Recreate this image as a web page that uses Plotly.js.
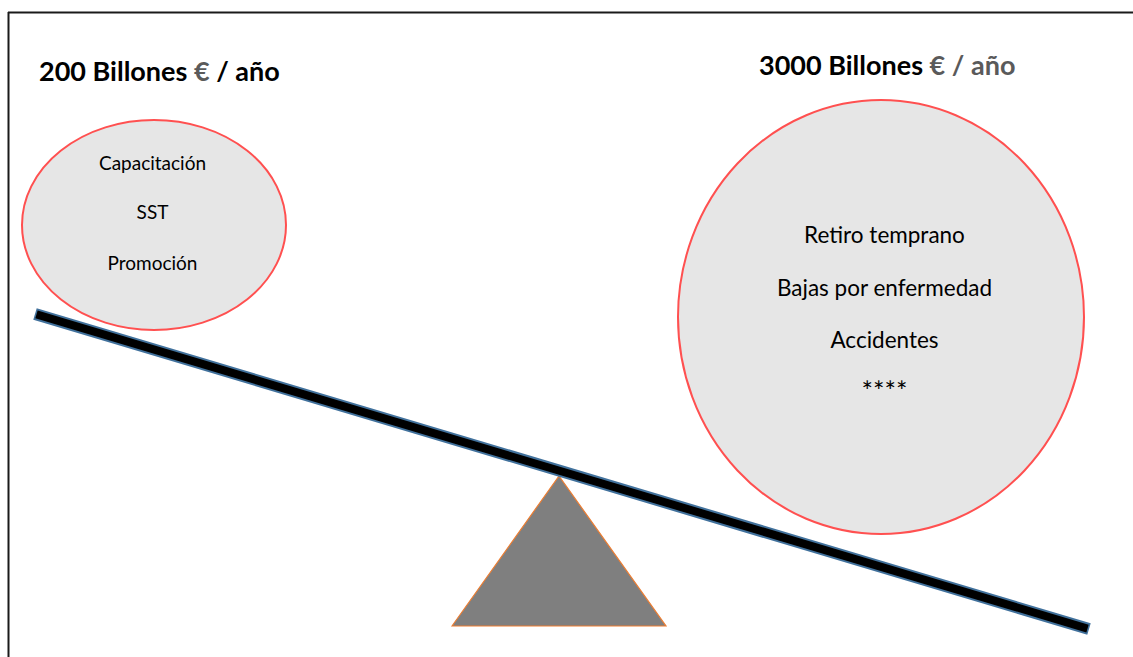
<!DOCTYPE html>
<html>
<head>
<meta charset="utf-8">
<script src="https://cdn.plot.ly/plotly-3.0.1.min.js"></script>
<style>
html,body{margin:0;padding:0;background:#fff;overflow:hidden;}
::-webkit-scrollbar{display:none;width:0;height:0;}
#chart{width:1133px;height:657px;}
</style>
</head>
<body>
<div id="chart"></div>
<script>
// ---- data ----
const amounts = ['200', '3000'];
const amountWord = 'Billones';
const unitEuro = '€';
const unitYear = 'año';
const investItems = ['Capacitación', 'SST', 'Promoción'];
const costItems = ['Retiro temprano', 'Bajas por enfermedad', 'Accidentes', '****'];

// ---- layout geometry (pixel coordinates in a 1133x657 frame) ----
const W = 1133, H = 657;
const leftCircle = {cx: 154, cy: 225, rx: 132, ry: 105};
const rightCircle = {cx: 881, cy: 317, rx: 203, ry: 217};
const beam = {x0: 35, y0: 314, x1: 1089, y1: 629};
const fulcrum = {ax: 559, ay: 476, bl: 452, br: 666, by: 626};

const shapes = [];
// frame border (top and left edges visible)
shapes.push({type: 'line', xref: 'x', yref: 'y', x0: 8, y0: 12.5, x1: W + 5, y1: 12.5,
  line: {color: '#1a1a1a', width: 2}, layer: 'below'});
shapes.push({type: 'line', xref: 'x', yref: 'y', x0: 8.5, y0: 12, x1: 8.5, y1: H + 5,
  line: {color: '#1a1a1a', width: 2}, layer: 'below'});
// circles
[leftCircle, rightCircle].forEach(c => shapes.push({type: 'circle', xref: 'x', yref: 'y',
  x0: c.cx - c.rx, x1: c.cx + c.rx, y0: c.cy - c.ry, y1: c.cy + c.ry,
  fillcolor: '#e6e6e6', line: {color: '#ff5050', width: 2}, layer: 'below'}));
// fulcrum triangle
shapes.push({type: 'path', xref: 'x', yref: 'y',
  path: `M ${fulcrum.bl} ${fulcrum.by} L ${fulcrum.ax} ${fulcrum.ay} L ${fulcrum.br} ${fulcrum.by} Z`,
  fillcolor: '#7f7f7f', line: {color: '#ed7d31', width: 1.2}});
// beam: blue outline then black core
shapes.push({type: 'line', xref: 'x', yref: 'y', x0: beam.x0, y0: beam.y0, x1: beam.x1, y1: beam.y1,
  line: {color: '#41719c', width: 12}});
shapes.push({type: 'line', xref: 'x', yref: 'y', x0: beam.x0 + 1.5, y0: beam.y0 + 0.45, x1: beam.x1 - 1.5, y1: beam.y1 - 0.45,
  line: {color: '#000000', width: 8}});

const grey = '#5a5a5a';
const headFont = {family: 'Lato, "Open Sans", sans-serif', size: 27, color: '#000'};
const annotations = [
  {x: 37, y: 70, xanchor: 'left', yanchor: 'middle', showarrow: false, font: headFont,
   text: `<b>${amounts[0]} ${amountWord} <span style="color:${grey}">${unitEuro}</span> / ${unitYear}</b>`},
  {x: 757, y: 64, xanchor: 'left', yanchor: 'middle', showarrow: false, font: headFont,
   text: `<b>${amounts[1]} ${amountWord} <span style="color:${grey}">${unitEuro} / ${unitYear}</span></b>`}
];

const leftYs = [165, 214, 265];
const rightYs = [237, 290, 342, 394];

const traces = [
  {type: 'scatter', mode: 'text', x: investItems.map(() => leftCircle.cx - 1.5), y: leftYs,
   text: investItems, textposition: 'middle center', hoverinfo: 'skip', showlegend: false,
   textfont: {family: 'Lato, "Open Sans", sans-serif', size: 19, color: '#000'}},
  {type: 'scatter', mode: 'text', x: costItems.map(() => rightCircle.cx + 3.5), y: rightYs,
   text: costItems, textposition: 'middle center', hoverinfo: 'skip', showlegend: false,
   textfont: {family: 'Lato, "Open Sans", sans-serif', size: costItems.map((t, i) => i === 3 ? 27 : 22.5), color: '#000'}}
];

const layout = {
  width: W, height: H,
  margin: {l: 0, r: 0, t: 0, b: 0},
  paper_bgcolor: '#fff', plot_bgcolor: '#fff',
  xaxis: {range: [0, W], visible: false, fixedrange: true},
  yaxis: {range: [H, 0], visible: false, fixedrange: true},
  shapes: shapes,
  annotations: annotations,
  showlegend: false
};

Plotly.newPlot('chart', traces, layout, {displayModeBar: false, staticPlot: true});
</script>
</body>
</html>
